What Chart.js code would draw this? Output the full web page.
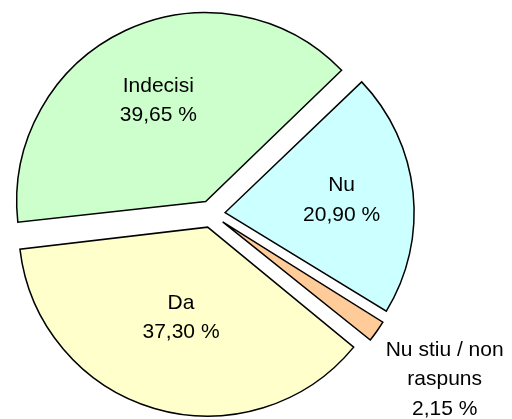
<!DOCTYPE html>
<html lang="ro">
<head>
    <meta charset="UTF-8">
    <title>Sondaj - pie</title>
    <script src="https://cdn.jsdelivr.net/npm/chart.js"></script>
    <style>
        html, body { margin: 0; padding: 0; background: #fff; }
        #wrap { width: 512px; height: 419px; }
    </style>
</head>
<body>
    <div id="wrap"><canvas id="pie"></canvas></div>

    <script>
        // chart data
        const categories = ['Indecisi', 'Nu', 'Nu stiu / non raspuns', 'Da'];
        const labelLines = [['Indecisi'], ['Nu'], ['Nu stiu / non', 'raspuns'], ['Da']];
        const percents = [39.65, 20.90, 2.15, 37.30];

        const colors = ['#ccffcc', '#ccffff', '#ffcc99', '#ffffcc'];
        const pieRadius = 189;
        const sliceShift = 13.7;        // how far each slice is pulled out
        const labelDist = [0.59, 0.62, 1.44, 0.5];  // label distance, fraction of radius

        // keep every slice the same size after pulling it out
        const evenRadius = {
            id: 'evenRadius',
            beforeDatasetsDraw(chart) {
                chart.getDatasetMeta(0).data.forEach(arc => {
                    const shift = (arc.options.offset || 0) / 4;
                    const fix = 1 - Math.sin(Math.min(Math.PI, arc.circumference));
                    arc.outerRadius = pieRadius - shift * fix;
                });
            }
        };

        const sliceLabels = {
            id: 'sliceLabels',
            afterDatasetsDraw(chart) {
                const ctx = chart.ctx;
                ctx.save();
                ctx.font = '21px "Liberation Sans", Arial, sans-serif';
                ctx.fillStyle = '#000';
                ctx.textAlign = 'center';
                ctx.textBaseline = 'middle';
                chart.getDatasetMeta(0).data.forEach((arc, i) => {
                    const mid = (arc.startAngle + arc.endAngle) / 2;
                    const shift = (arc.options.offset || 0) / 4;
                    const r = shift + labelDist[i] * pieRadius;
                    const cx = arc.x + Math.cos(mid) * r;
                    const cy = arc.y + Math.sin(mid) * r;
                    const lines = labelLines[i].concat(percents[i].toFixed(2).replace('.', ',') + ' %');
                    const lh = 29.5;
                    lines.forEach((t, k) => {
                        ctx.fillText(t, cx, cy + (k - (lines.length - 1) / 2) * lh);
                    });
                });
                ctx.restore();
            }
        };

        new Chart(document.getElementById('pie'), {
            type: 'pie',
            data: {
                labels: categories,
                datasets: [{
                    data: percents,
                    backgroundColor: colors,
                    borderColor: '#000',
                    borderWidth: 1.5,
                    borderJoinStyle: 'miter',
                    offset: sliceShift * 4
                }]
            },
            options: {
                responsive: true,
                maintainAspectRatio: false,
                animation: false,
                rotation: -96.5,
                radius: pieRadius,
                layout: { padding: { left: 0, right: 89, top: 9, bottom: 0 } },
                plugins: {
                    legend: { display: false },
                    tooltip: { enabled: false }
                }
            },
            plugins: [evenRadius, sliceLabels]
        });
    </script>
</body>
</html>
